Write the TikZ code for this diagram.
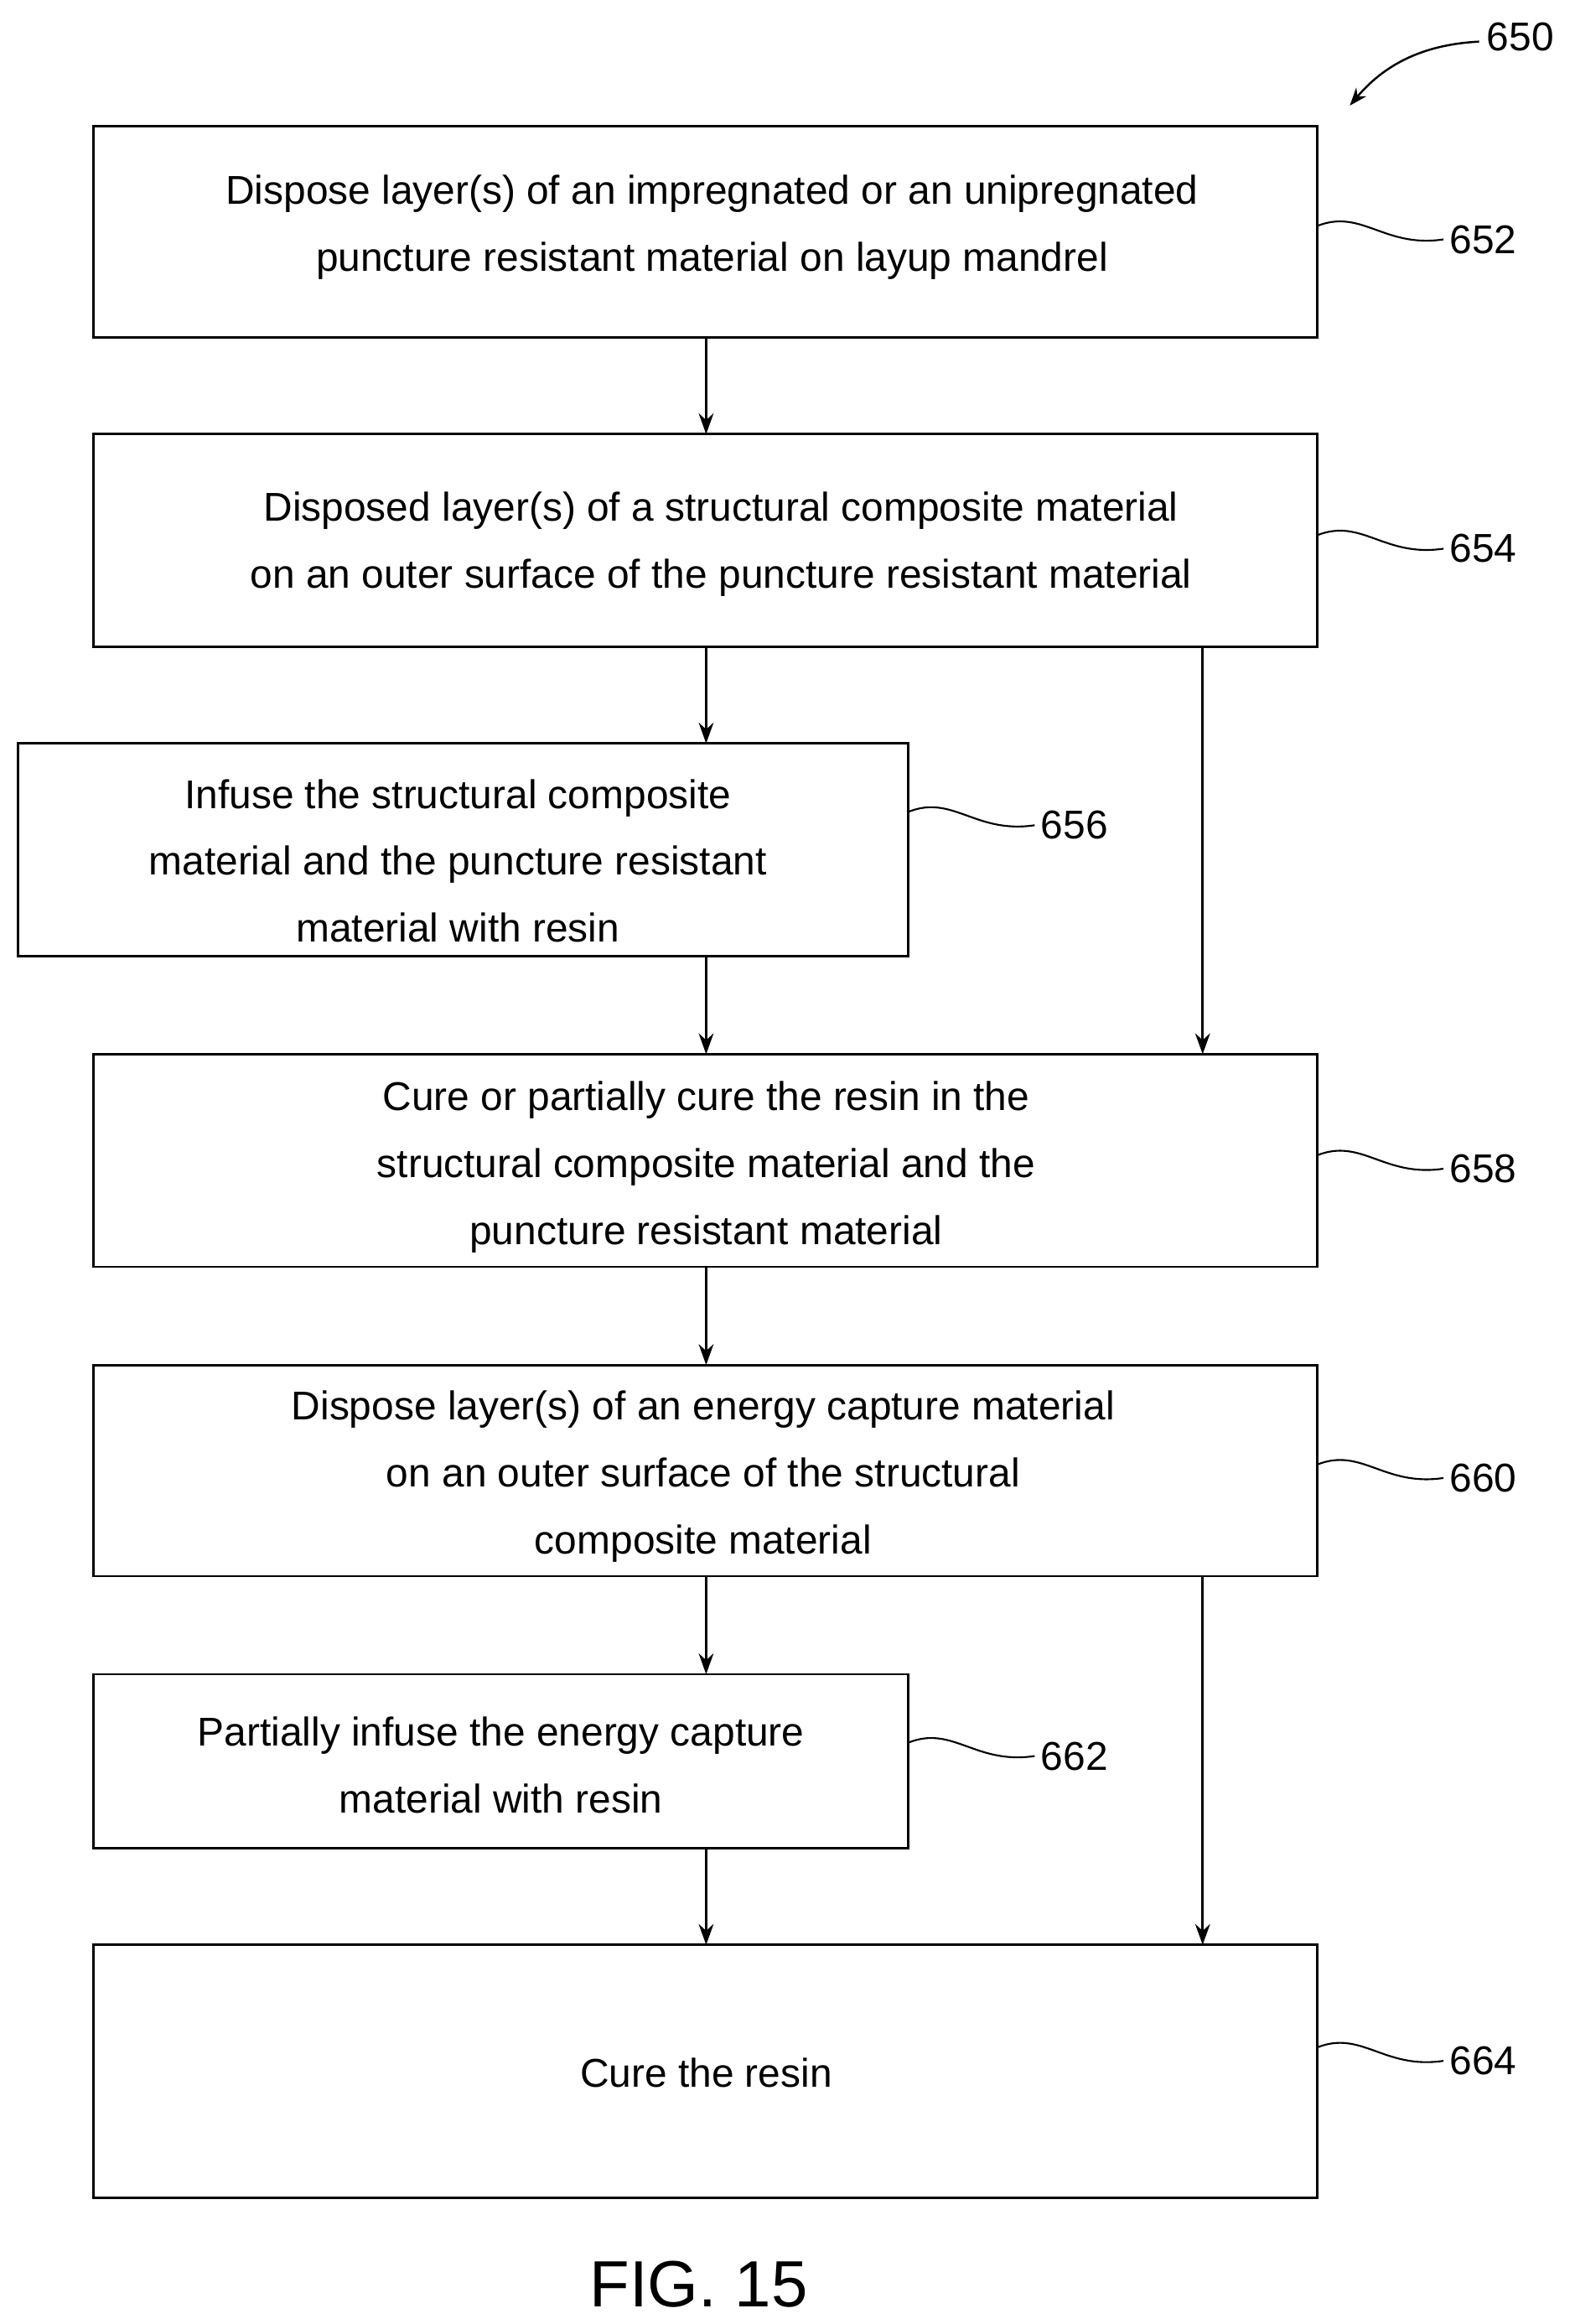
\documentclass[tikz,border=0pt]{standalone}
\usepackage{fontspec}
\setmainfont{Liberation Sans}
\usetikzlibrary{arrows.meta}
\begin{document}
\begin{tikzpicture}[x=1pt,y=-1pt,
  box/.style={draw,line width=1.6pt},
  txt/.style={align=center,font=\fontsize{27}{45}\selectfont,inner sep=0pt},
  lbl/.style={font=\fontsize{27}{30}\selectfont,inner sep=0pt,anchor=west},
  arr/.style={line width=1.6pt,-{Stealth[length=14pt,width=10pt]}},
  sq/.style={line width=1.2pt}]
\useasboundingbox (0,0) rectangle (1059,1563);
\draw[box] (63,85) rectangle (886,227);
\draw[box] (63,292) rectangle (886,435);
\draw[box] (12,500) rectangle (611,643);
\draw[box] (63,709) rectangle (886,852);
\draw[box] (63,918) rectangle (886,1060);
\draw[box] (63,1126) rectangle (611,1243);
\draw[box] (63,1308) rectangle (886,1478);
\node[txt] (t652) at (479,153) {Dispose layer(s) of an impregnated or an unipregnated\\puncture resistant material on layup mandrel};
\node[txt] (t654) at (485,366) {Disposed layer(s) of a structural composite material\\on an outer surface of the puncture resistant material};
\node[txt] (t656) at (308,579) {Infuse the structural composite\\material and the puncture resistant\\material with resin};
\node[txt] (t658) at (475,785) {Cure or partially cure the resin in the\\structural composite material and the\\puncture resistant material};
\node[txt] (t660) at (473,993) {Dispose layer(s) of an energy capture material\\on an outer surface of the structural\\composite material};
\node[txt] (t662) at (337,1187) {Partially infuse the energy capture\\material with resin};
\node[txt] (t664) at (475,1394) {Cure the resin};
\coordinate (a1) at (475,227); \coordinate (b1) at (475,292);
\coordinate (a2) at (475,435); \coordinate (b2) at (475,500);
\coordinate (a3) at (475,643); \coordinate (b3) at (475,709);
\coordinate (a4) at (475,852); \coordinate (b4) at (475,918);
\coordinate (a5) at (475,1060); \coordinate (b5) at (475,1126);
\coordinate (a6) at (475,1243); \coordinate (b6) at (475,1308);
\coordinate (r1) at (809,435); \coordinate (s1) at (809,709);
\coordinate (r2) at (809,1060); \coordinate (s2) at (809,1308);
\foreach \i in {1,...,6} \draw[arr] (a\i) -- (b\i);
\draw[arr] (r1) -- (s1);
\draw[arr] (r2) -- (s2);
\foreach \x/\y/\n in {886/152/652,886/360/654,611/546/656,886/777/658,886/985/660,611/1172/662,886/1377/664}{
  \draw[sq] (\x,\y) .. controls (\x+30,\y-12) and (\x+45,\y+15) .. (\x+85,\y+9);
  \node[lbl] at (\x+89,\y+9) {\n};}
\node[lbl] (l650) at (1000,25) {650};
\draw[line width=1.4pt,-{Stealth[length=12pt,width=9pt]}] (995,28) .. controls (955,30) and (930,45) .. (908,71);
\node[font=\fontsize{44}{48}\selectfont,inner sep=0pt] (fig) at (470,1536) {FIG. 15};
\end{tikzpicture}
\end{document}
